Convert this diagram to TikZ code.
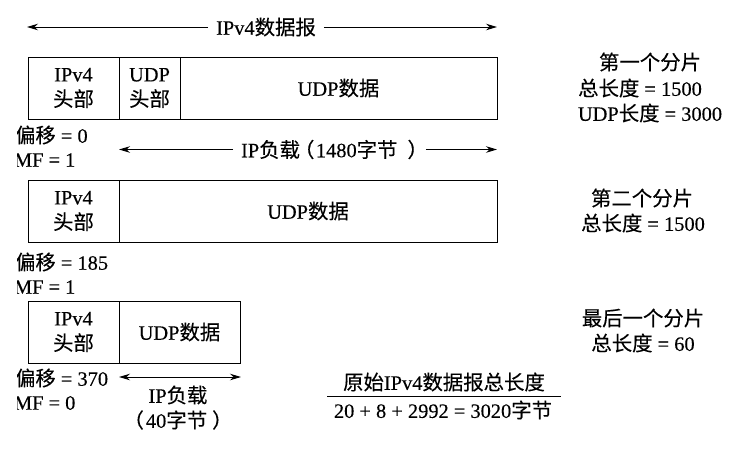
\documentclass[tikz,border=0pt]{standalone}
\usepackage{fontspec}
\setmainfont{Liberation Serif}[FakeBold=0.25]
\newfontfamily\cjk{Noto Sans CJK SC}[FakeBold=0.2]
\newcommand{\C}[1]{{\cjk #1}}
\usetikzlibrary{arrows.meta}
\tikzset{
  every node/.style={font=\fontsize{20.4}{25}\selectfont, inner sep=0pt, outer sep=0pt},
  cell/.style={draw=black, line width=1pt, anchor=north west, align=center, minimum height=62pt},
  label/.style={align=center},
  gaplabel/.style={align=center, inner xsep=8pt},
  dim/.style={line width=1pt, -{Stealth[length=11pt,width=6.5pt]}},
  dimboth/.style={line width=1pt, {Stealth[length=11pt,width=6.5pt]}-{Stealth[length=11pt,width=6.5pt]}},
  flag/.style={anchor=west}
}
\begin{document}
\begin{tikzpicture}[x=1pt,y=-1pt]
\useasboundingbox (0,0) rectangle (751,461);
% first fragment
\node[cell, minimum width=91pt] (a1) at (28,57) {IPv4\\\C{头部}};
\node[cell, minimum width=61pt] (a2) at (119,57) {UDP\\\C{头部}};
\node[cell, minimum width=317pt] (a3) at (180,57) {UDP\C{数据}};
% second fragment
\node[cell, minimum width=91pt] (b1) at (28,180) {IPv4\\\C{头部}};
\node[cell, minimum width=378pt] (b2) at (119,180) {UDP\C{数据}};
% last fragment
\node[cell, minimum width=91pt] (c1) at (28,301) {IPv4\\\C{头部}};
\node[cell, minimum width=121pt] (c2) at (119,301) {UDP\C{数据}};
% dimension lines
\coordinate (t1) at (27,27);
\coordinate (t2) at (497,27);
\node[gaplabel] (top) at (266,27) {IPv4\C{数据报}};
\draw[dim] (top) -- (t1);
\draw[dim] (top) -- (t2);
\coordinate (m1) at (119,149.5);
\coordinate (m2) at (497,149.5);
\node[gaplabel] (mid) at (329.5,149.5) {IP\C{负载}\kern-6pt\C{（}\kern1.5pt 1480\C{字节}\kern10pt\C{）}\kern-10pt};
\draw[dim] (mid) -- (m1);
\draw[dim] (mid) -- (m2);
\coordinate (l1) at (119,377);
\coordinate (l2) at (241,377);
\draw[dimboth] (l1) -- (l2);
\node[label] (p1) at (178,395) {IP\C{负载}};
\node[label] (p2) at (178,420) {\C{（}\kern2pt 40\C{字节}\kern5pt\C{）}};
% offsets
\node[flag] (o1) at (15,135) {\C{偏移} = 0};
\node[flag] (f1) at (14,160) {MF = 1};
\node[flag] (o2) at (15,262) {\C{偏移} = 185};
\node[flag] (f2) at (14,287) {MF = 1};
\node[flag] (o3) at (15,378) {\C{偏移} = 370};
\node[flag] (f3) at (14,403) {MF = 0};
\fill[white] (0,120) rectangle (17,420);
% right captions
\node[label] (r1) at (650,62) {\C{第一个分片}};
\node[label] (r2) at (640,88) {\C{总长度} = 1500};
\node[label] (r3) at (650,113) {UDP\C{长度} = 3000};
\node[label] (r4) at (642,198) {\C{第二个分片}};
\node[label] (r5) at (643,223) {\C{总长度} = 1500};
\node[label] (r6) at (643,318) {\C{最后一个分片}};
\node[label] (r7) at (643,343) {\C{总长度} = 60};
% fraction
\node[label] (n) at (444,382) {\C{原始}IPv4\C{数据报总长度}};
\node[label] (d) at (443,410) {20 + 8 + 2992 = 3020\C{字节}};
\coordinate (fl) at (327,396);
\coordinate (fr) at (561,396);
\draw[line width=1pt] (fl) -- (fr);
\end{tikzpicture}
\end{document}
